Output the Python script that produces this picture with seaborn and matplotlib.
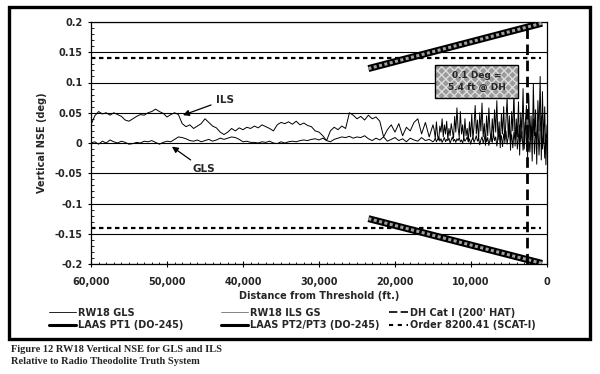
import numpy as np
import pandas as pd
import matplotlib
matplotlib.use("Agg")
import matplotlib.pyplot as plt
import seaborn as sns
from matplotlib.patches import Rectangle
from matplotlib.lines import Line2D

# ---------------- data ----------------
# ILS glide-slope NSE, far segment: 60,000 ft -> 15,000 ft
ils_far = [
    0.030, 0.045, 0.052, 0.048, 0.050, 0.046, 0.050, 0.047, 0.044, 0.038,
    0.036, 0.040, 0.044, 0.047, 0.046, 0.050, 0.052, 0.056, 0.052, 0.049,
    0.043, 0.047, 0.050, 0.047, 0.032, 0.027, 0.030, 0.024, 0.028, 0.032,
    0.040, 0.034, 0.028, 0.025, 0.018, 0.014, 0.018, 0.024, 0.020, 0.025,
    0.022, 0.026, 0.024, 0.028, 0.025, 0.030, 0.027, 0.024, 0.020, 0.030,
    0.034, 0.032, 0.035, 0.031, 0.036, 0.030, 0.033, 0.029, 0.027, 0.020,
    0.018, 0.012, 0.004, 0.020, 0.026, 0.022, 0.028, 0.024, 0.050, 0.046,
    0.040, 0.044, 0.038, 0.046, 0.040, 0.043, 0.036, 0.010, 0.022, 0.030,
    0.018, 0.032, 0.012, 0.026, 0.020, 0.034, 0.040, 0.015, 0.034, 0.010,
    0.030,
]
# ILS near segment: 14,850 ft -> 0 ft
ils_near = [
    0.022, 0.008, 0.035, 0.012, 0.005, 0.028, 0.018, 0.040, 0.010, 0.030,
    0.015, 0.036, 0.006, 0.024, 0.012, 0.032, 0.020, 0.008, 0.044, 0.018,
    0.058, 0.025, 0.010, 0.052, 0.015, 0.030, 0.005, 0.040, 0.012, 0.024,
    0.002, 0.035, 0.010, 0.048, 0.006, 0.028, 0.062, 0.015, 0.038, 0.004,
    0.050, 0.020, 0.066, 0.010, 0.032, -0.004, 0.045, 0.012, 0.058, 0.020,
    0.002, 0.040, 0.010, 0.055, 0.018, 0.070, 0.005, 0.035, -0.008, 0.048,
    0.015, 0.060, 0.000, 0.038, 0.074, 0.010, 0.045, -0.012, 0.052, 0.020,
    0.085, -0.005, 0.040, 0.010, 0.068, -0.020, 0.050, 0.015, 0.090, -0.010,
    0.035, 0.062, -0.025, 0.080, 0.005, 0.045, -0.030, 0.098, 0.012, 0.055,
    -0.035, 0.070, 0.020, 0.110, -0.028, 0.085, 0.000, 0.060, -0.036, 0.030,
]
# GLS NSE, far segment: 60,000 ft -> 15,000 ft
gls_far = [
    0.000, 0.002, -0.002, 0.003, 0.000, 0.005, 0.002, 0.000, 0.003, 0.001,
    -0.002, -0.001, 0.001, 0.000, 0.003, 0.002, 0.004, 0.001, -0.002, 0.001,
    0.003, 0.002, 0.006, 0.010, 0.009, 0.007, 0.004, 0.003, 0.005, 0.002,
    0.004, 0.006, 0.003, 0.005, 0.008, 0.006, 0.008, 0.010, 0.009, 0.006,
    0.002, 0.003, 0.001, 0.001, 0.000, 0.002, 0.001, 0.003, 0.000, -0.001,
    0.002, 0.000, 0.002, 0.003, 0.002, 0.004, 0.005, 0.004, 0.006, 0.007,
    0.005, 0.008, 0.004, 0.002, 0.006, 0.008, 0.010, 0.009, 0.011, 0.008,
    0.010, 0.009, 0.012, 0.007, 0.004, 0.008, 0.005, 0.010, 0.003, 0.006,
    0.009, 0.004, 0.007, 0.002, 0.008, 0.005, 0.003, 0.009, 0.004, 0.006,
    0.002,
]
# GLS near segment: 14,850 ft -> 0 ft
gls_near = [
    0.004, 0.008, 0.002, 0.006, 0.010, 0.003, 0.007, 0.001, 0.005, 0.009,
    0.002, 0.006, 0.004, 0.008, 0.000, 0.005, 0.010, 0.003, 0.006, 0.001,
    0.007, 0.004, 0.009, 0.002, 0.005, 0.000, 0.008, 0.003, 0.006, 0.010,
    0.002, 0.007, -0.002, 0.005, 0.009, 0.001, 0.006, 0.012, 0.003, 0.008,
    -0.003, 0.005, 0.010, 0.000, 0.007, 0.014, 0.002, 0.009, -0.004, 0.006,
    0.012, 0.001, 0.016, 0.004, 0.010, -0.005, 0.008, 0.018, 0.002, 0.012,
    -0.006, 0.015, 0.005, 0.020, -0.002, 0.010, 0.024, 0.000, 0.014, -0.008,
    0.018, 0.006, 0.026, -0.010, 0.012, 0.030, 0.002, 0.020, -0.012, 0.015,
    0.035, -0.006, 0.022, 0.008, -0.015, 0.028, 0.010, 0.040, -0.018, 0.018,
    0.005, 0.032, -0.020, 0.025, 0.045, -0.010, 0.020, -0.025, 0.015, 0.010,
]
far_range = (60000, 15000)
near_range = (14850, 0)

# LAAS limit lines and other reference lines
laas_pt1_dist = [23500, 650]
laas_pt1_nse = [0.123, 0.198]
laas_pt2_dist = [23500, 650]
laas_pt2_nse = [-0.125, -0.199]
order_dist = [60000, 800]
order_limit = 0.14
dh_dist = 2650

# axis ticks
y_ticks = [-0.2, -0.15, -0.1, -0.05, 0, 0.05, 0.1, 0.15, 0.2]
y_tick_labels = ["-0.2", "-0.15", "-0.1", "-0.05", "0", "0.05", "0.1", "0.15", "0.2"]
x_ticks = [60000, 50000, 40000, 30000, 20000, 10000, 0]
x_tick_labels = ["60,000", "50,000", "40,000", "30,000", "20,000", "10,000", "0"]

# ---------------- build frame ----------------
dist = np.concatenate([np.linspace(*far_range, len(ils_far)),
                       np.linspace(*near_range, len(ils_near))])
df = pd.DataFrame({
    "dist": dist,
    "ILS": ils_far + ils_near,
    "GLS": gls_far + gls_near,
})

sns.set_theme(style="white")
plt.rcParams["font.family"] = ["DejaVu Sans"]
plt.rcParams["font.weight"] = "bold"

fig = plt.figure(figsize=(6.0, 3.74), dpi=100)
fig.patch.set_facecolor("white")
ax = fig.add_axes([91 / 600, 1 - 264 / 374, 456 / 600, 242 / 374])

# grid
ax.set_ylim(-0.2, 0.2)
ax.set_xlim(60000, 0)
ax.set_yticks(y_ticks)
ax.set_yticklabels(y_tick_labels)
ax.set_xticks(x_ticks)
ax.set_xticklabels(x_tick_labels)
ax.set_yticks(np.round(np.arange(-0.2, 0.2001, 0.01), 3), minor=True)
ax.set_xticks(np.arange(0, 60001, 1000), minor=True)
ax.yaxis.grid(True, which="major", color="black", lw=0.8)
ax.xaxis.grid(False)
ax.set_axisbelow(True)

# data lines
sns.lineplot(data=df, x="dist", y="ILS", color="black", lw=0.7,
             estimator=None, sort=False, ax=ax, legend=False)
sns.lineplot(data=df, x="dist", y="GLS", color="black", lw=0.7,
             estimator=None, sort=False, ax=ax, legend=False)

# order 8200.41 limits
ax.plot(order_dist, [order_limit, order_limit], color="black", lw=1.6,
        ls=(0, (2.0, 1.6)))
ax.plot(order_dist, [-order_limit, -order_limit], color="black", lw=1.6,
        ls=(0, (2.0, 1.6)))

# LAAS lines (thick, textured)
for d, v in ((laas_pt1_dist, laas_pt1_nse), (laas_pt2_dist, laas_pt2_nse)):
    ax.plot(d, v, color="black", lw=5, solid_capstyle="butt", zorder=4)
    ax.plot(d, v, color="#a0a0a0", lw=2.2, ls=(0, (1, 0.8)),
            solid_capstyle="butt", zorder=5)

# DH line
ax.axvline(dh_dist, color="black", lw=2.0, ls=(0, (3.8, 2.0)), zorder=6)

# hatched annotation box
box_x0, box_x1, box_y0, box_y1 = 3816, 14740, 0.0744, 0.129
ax.add_patch(Rectangle((box_x0, box_y0), box_x1 - box_x0, box_y1 - box_y0,
                       facecolor="#9a9a9a", edgecolor="#dcdcdc", hatch="xxxx",
                       lw=0, zorder=6))
ax.add_patch(Rectangle((box_x0, box_y0), box_x1 - box_x0, box_y1 - box_y0,
                       fill=False, edgecolor="black", lw=1.0, zorder=7))
ax.text((box_x0 + box_x1) / 2, (box_y0 + box_y1) / 2, "0.1 Deg =\n5.4 ft @ DH",
        ha="center", va="center", fontsize=6.5, weight="bold",
        linespacing=1.4, zorder=8)

# ILS / GLS callouts
arrow = dict(arrowstyle="-|>", color="black", lw=0.9, mutation_scale=9,
             shrinkA=1, shrinkB=0)
ax.annotate("ILS", xy=(47900, 0.046), xytext=(43600, 0.071),
            fontsize=7.5, weight="bold", ha="left", va="center",
            arrowprops=arrow)
ax.annotate("GLS", xy=(49350, -0.006), xytext=(46700, -0.043),
            fontsize=7.5, weight="bold", ha="left", va="center",
            arrowprops=arrow)

# spines & ticks
for s in ax.spines.values():
    s.set_visible(True)
    s.set_color("black")
    s.set_linewidth(0.9)
ax.tick_params(axis="y", which="major", direction="out", length=2.5,
               width=0.8, color="black", left=True, pad=3.5, labelsize=7)
ax.tick_params(axis="y", which="minor", direction="in", length=2,
               width=0.6, color="black", left=True)
ax.tick_params(axis="x", which="major", direction="inout", length=5,
               width=0.8, color="black", bottom=True, pad=7, labelsize=7)
ax.tick_params(axis="x", which="minor", direction="in", length=1.8,
               width=0.6, color="black", bottom=True)
for lab in ax.get_xticklabels() + ax.get_yticklabels():
    lab.set_fontweight("bold")
ax.set_xlabel("")
ax.set_ylabel("")

fig.text(319 / 600, 1 - 296 / 374, "Distance from Threshold (ft.)",
         ha="center", va="center", fontsize=7, weight="bold")
fig.text(42 / 600, 1 - 143 / 374, "Vertical NSE (deg)", rotation=90,
         ha="center", va="center", fontsize=7, weight="bold")

# legends (three columns)
h_gls = Line2D([], [], color="black", lw=0.6)
h_ils = Line2D([], [], color="#707070", lw=0.6)
h_dh = Line2D([], [], color="black", lw=1.2, ls=(0, (5, 2)))
h_pt1 = Line2D([], [], color="black", lw=2.2)
h_pt2 = Line2D([], [], color="black", lw=2.2)
h_ord = Line2D([], [], color="black", lw=1.5, ls=(0, (2, 2.2)))

common = dict(loc="center left", frameon=False, fontsize=7,
              borderpad=0, borderaxespad=0, handletextpad=0.15,
              labelspacing=0.28, prop={"weight": "bold", "size": 7})
for handles, labels, x, hl in (
        ([h_gls, h_pt1], ["RW18 GLS", "LAAS PT1 (DO-245)"], 49, 2.8),
        ([h_ils, h_pt2], ["RW18 ILS GS", "LAAS PT2/PT3 (DO-245)"], 221, 2.8),
        ([h_dh, h_ord], ["DH Cat I (200' HAT)", "Order 8200.41 (SCAT-I)"], 389, 2.0)):
    kw = dict(common)
    kw.pop("fontsize")
    fig.legend(handles, labels, bbox_to_anchor=(x / 600, 1 - 319 / 374),
               handlelength=hl, **kw)

# outer frame
fig.patches.append(Rectangle((9 / 600, 1 - 339 / 374), 581 / 600, 332 / 374,
                             transform=fig.transFigure, fill=False,
                             lw=2.4, ec="black"))

# caption
fig.text(11 / 600, 1 - 349 / 374, "Figure 12 RW18 Vertical NSE for GLS and ILS",
         family="Liberation Serif", weight="bold", fontsize=7.5, va="center")
fig.text(11 / 600, 1 - 361 / 374, "Relative to Radio Theodolite Truth System",
         family="Liberation Serif", weight="bold", fontsize=7.5, va="center")

fig.savefig("out.png", dpi=100, facecolor="white")
